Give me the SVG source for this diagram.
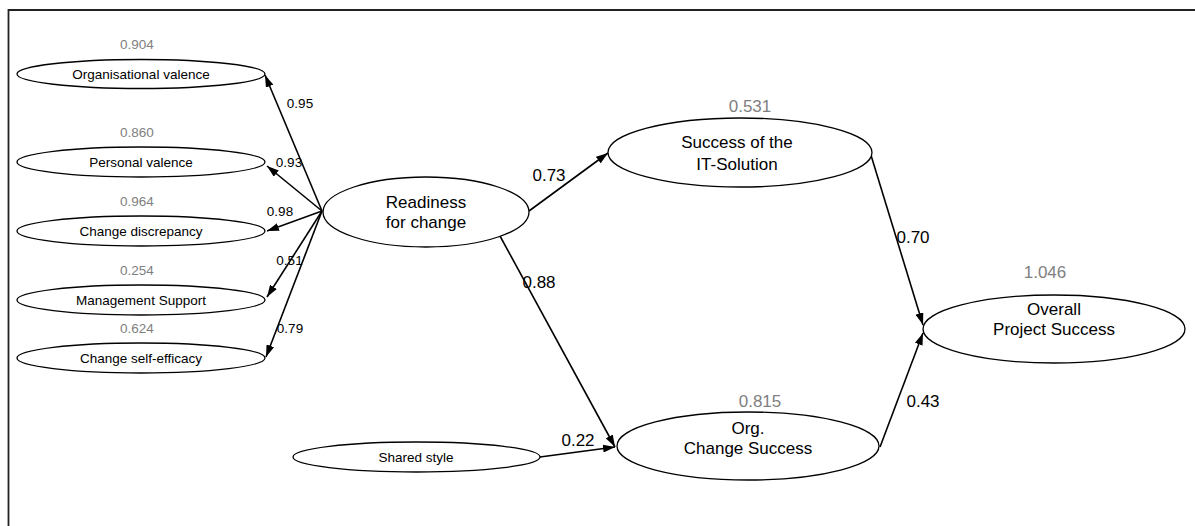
<svg xmlns="http://www.w3.org/2000/svg" width="1195" height="526" viewBox="0 0 1195 526">
<style>
text{font-family:"Liberation Sans",Arial,sans-serif;text-anchor:middle;fill:#000}
.s{font-size:13.5px}
.l{font-size:17px}
.g{fill:#808080}
ellipse{fill:#fff;stroke:#000;stroke-width:1.3}
.c line{stroke:#000;stroke-width:1.6}
</style>
<defs>
<marker id="ah" viewBox="0 0 12 8" refX="12" refY="4" markerWidth="12" markerHeight="8" markerUnits="userSpaceOnUse" orient="auto">
<path d="M0,0 L12,4 L0,8 z" fill="#000"/>
</marker>
</defs>
<rect width="1195" height="526" fill="#fff"/>
<path d="M8.5,526 V10 H1195" fill="none" stroke="#222" stroke-width="1.8"/>
<g class="c">
<line x1="322" y1="211" x2="265" y2="75" marker-end="url(#ah)"/>
<line x1="322" y1="211" x2="267" y2="166" marker-end="url(#ah)"/>
<line x1="322" y1="211" x2="267" y2="231" marker-end="url(#ah)"/>
<line x1="322" y1="211" x2="267" y2="297" marker-end="url(#ah)"/>
<line x1="322" y1="211" x2="266" y2="357" marker-end="url(#ah)"/>
<line x1="529" y1="211" x2="608" y2="153" marker-end="url(#ah)"/>
<line x1="500" y1="236" x2="615" y2="447" marker-end="url(#ah)"/>
<line x1="540" y1="457" x2="615" y2="447" marker-end="url(#ah)"/>
<line x1="870" y1="152" x2="923" y2="325" marker-end="url(#ah)"/>
<line x1="880" y1="447" x2="923" y2="333" marker-end="url(#ah)"/>
<text class="s" x="300" y="108">0.95</text>
<text class="s" x="289" y="167">0.93</text>
<text class="s" x="280" y="216">0.98</text>
<text class="s" x="289.5" y="265">0.51</text>
<text class="s" x="290" y="333">0.79</text>
<text class="l" x="549" y="181">0.73</text>
<text class="l" x="539" y="288">0.88</text>
<text class="l" x="578" y="446">0.22</text>
<text class="l" x="913" y="243">0.70</text>
<text class="l" x="923" y="407">0.43</text>
</g>
<g id="org-valence">
<ellipse cx="141" cy="74" rx="124" ry="14.5"/>
<text class="s g" x="137" y="49">0.904</text>
<text class="s" x="141" y="79">Organisational valence</text>
</g>
<g id="personal-valence">
<ellipse cx="141" cy="162" rx="124" ry="15"/>
<text class="s g" x="137" y="137">0.860</text>
<text class="s" x="141" y="167">Personal valence</text>
</g>
<g id="change-discrepancy">
<ellipse cx="141" cy="231" rx="124" ry="15"/>
<text class="s g" x="137" y="206">0.964</text>
<text class="s" x="141" y="236">Change discrepancy</text>
</g>
<g id="management-support">
<ellipse cx="141" cy="300" rx="124" ry="15"/>
<text class="s g" x="137" y="275">0.254</text>
<text class="s" x="141" y="305">Management Support</text>
</g>
<g id="change-self-efficacy">
<ellipse cx="141" cy="358" rx="124" ry="15"/>
<text class="s g" x="137" y="333">0.624</text>
<text class="s" x="141" y="363">Change self-efficacy</text>
</g>
<g id="shared-style">
<ellipse cx="416.5" cy="457" rx="123.5" ry="15"/>
<text class="s" x="416" y="462">Shared style</text>
</g>
<g id="readiness">
<ellipse cx="426" cy="212" rx="103" ry="35"/>
<text class="l" x="426" y="208">Readiness</text>
<text class="l" x="426" y="228">for change</text>
</g>
<g id="it-success">
<ellipse cx="740" cy="152.5" rx="132" ry="34.5"/>
<text class="l g" x="750" y="112">0.531</text>
<text class="l" x="737" y="148">Success of the</text>
<text class="l" x="737" y="170">IT-Solution</text>
</g>
<g id="org-change">
<ellipse cx="748" cy="446" rx="131" ry="34"/>
<text class="l g" x="760" y="407">0.815</text>
<text class="l" x="748" y="434">Org.</text>
<text class="l" x="748" y="454">Change Success</text>
</g>
<g id="overall">
<ellipse cx="1054" cy="329" rx="131" ry="34"/>
<text class="l g" x="1045" y="278">1.046</text>
<text class="l" x="1054" y="315">Overall</text>
<text class="l" x="1054" y="335">Project Success</text>
</g>
</svg>
